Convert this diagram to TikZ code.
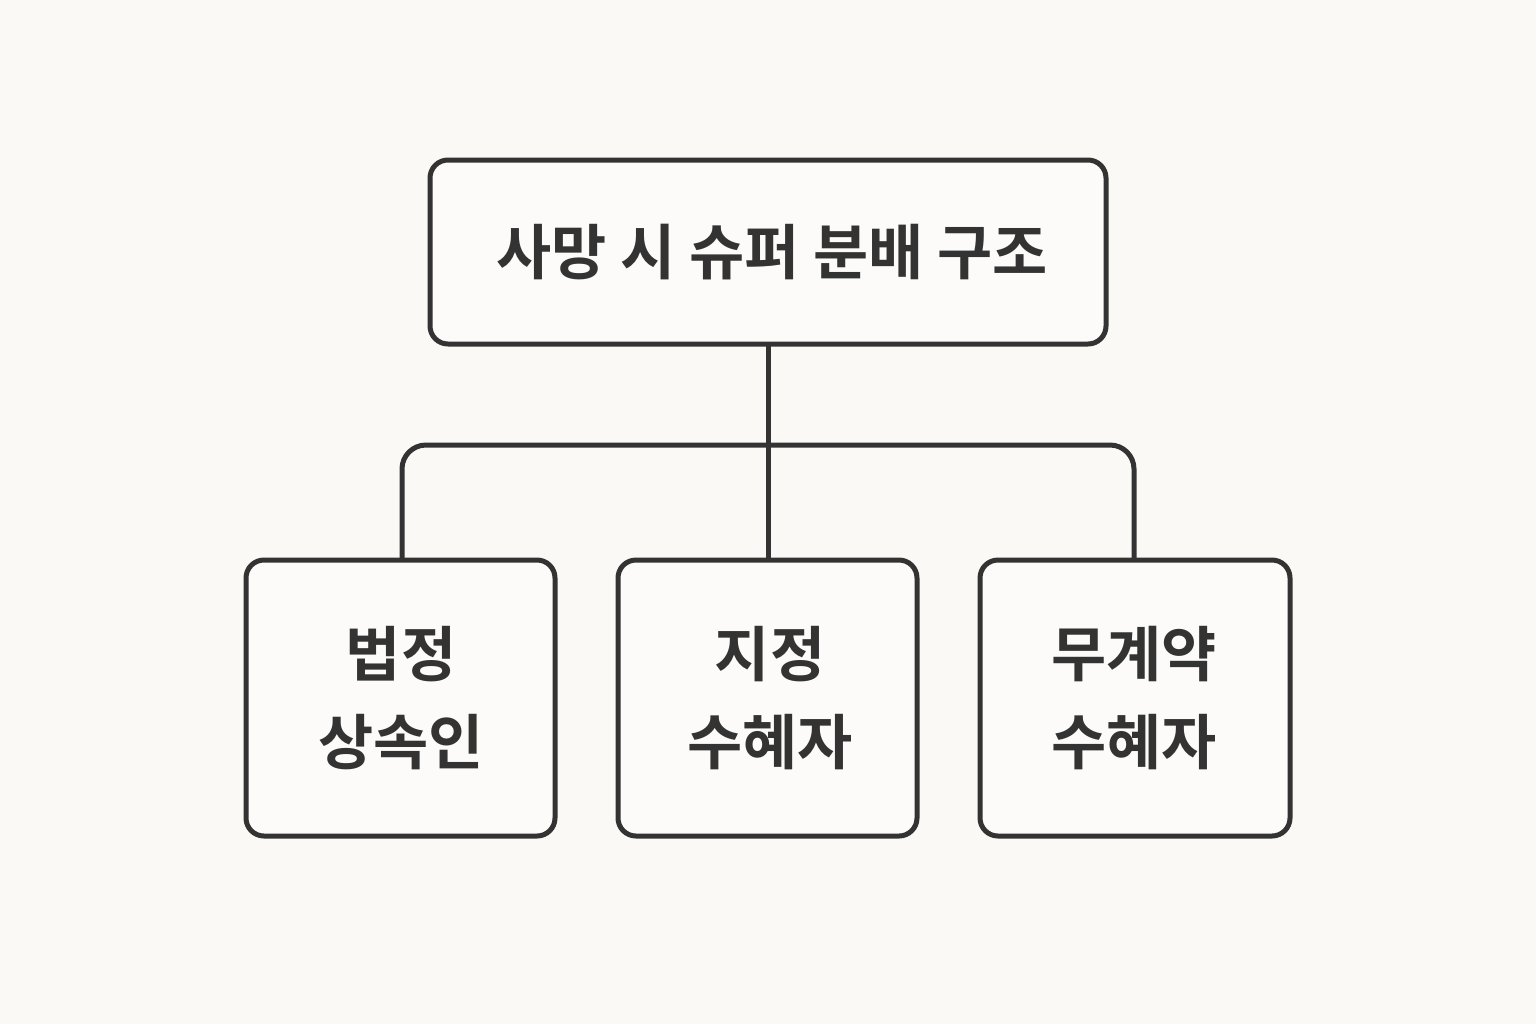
\documentclass[tikz,border=0pt]{standalone}
\usepackage{fontspec}
\newfontfamily\cjk{Noto Sans CJK KR Bold}
\definecolor{bg}{HTML}{FAF9F5}
\definecolor{ln}{HTML}{333333}
\begin{document}
\begin{tikzpicture}[x=0.5pt,y=-0.5pt,
  box/.style={draw=ln,line width=2.5pt,rounded corners=9pt,fill=white!40!bg},
  lbl/.style={font=\cjk\fontsize{30pt}{44pt}\selectfont,text=ln,align=center},
  conn/.style={draw=ln,line width=2.5pt}]
\fill[bg] (0,0) rectangle (1536,1024);
\useasboundingbox (0,0) rectangle (1536,1024);
\draw[box] (430,160) rectangle (1106,344);
\draw[box] (246,560) rectangle (555,836);
\draw[box] (618,560) rectangle (917,836);
\draw[box] (980,560) rectangle (1290,836);
\node[lbl] (top) at (772,252) {사망 시 슈퍼 분배 구조};
\node[lbl] (a) at (401,698) {법정\\상속인};
\node[lbl] (b) at (770,698) {지정\\수혜자};
\node[lbl] (c) at (1134,698) {무계약\\수혜자};
\coordinate (t) at (768,344);
\coordinate (m) at (768,558);
\coordinate (l) at (402,558);
\coordinate (r) at (1134,558);
\draw[conn] (t) -- (m);
\draw[conn,rounded corners=12pt] (l) -- (402,445) -- (1134,445) -- (r);
\end{tikzpicture}
\end{document}
